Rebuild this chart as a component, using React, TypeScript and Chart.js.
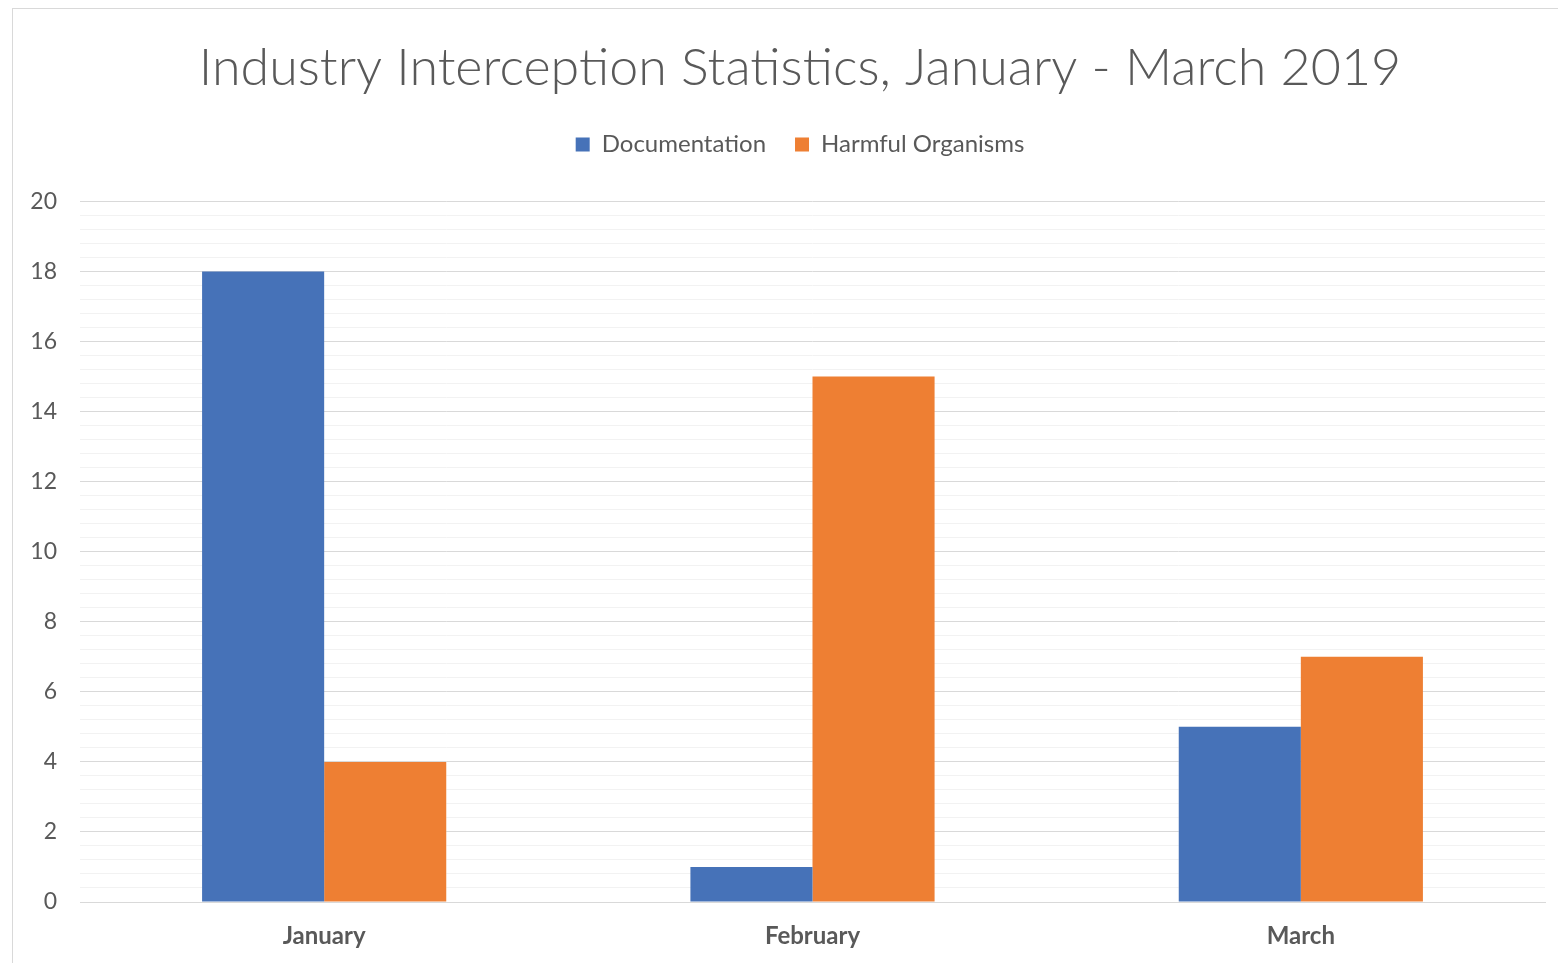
import React, { useEffect, useRef } from "react";
import { Chart, registerables } from "chart.js";

Chart.register(...registerables);

const categories = ["January", "February", "March"];
const documentation = [18, 1, 5];
const harmfulOrganisms = [4, 15, 7];
const seriesNames = ["Documentation", "Harmful Organisms"];
const titleText = "Industry Interception Statistics, January - March 2019";

const FONT = "Lato, 'Open Sans', sans-serif";

export default function App() {
  const ref = useRef<HTMLCanvasElement | null>(null);
  useEffect(() => {
    document.body.style.margin = "0";
    const legendMargin = {
      id: "legendMargin",
      beforeInit(chart: any) {
        const fit = chart.legend.fit;
        chart.legend.fit = function () {
          fit.bind(chart.legend)();
          this.height += 35;
        };
      },
    };
    const chart = new Chart(ref.current!, {
      type: "bar",
      data: {
        labels: categories,
        datasets: [
          { label: seriesNames[0], data: documentation, backgroundColor: "#4672B8" },
          { label: seriesNames[1], data: harmfulOrganisms, backgroundColor: "#EE7F33" },
        ],
      },
      options: {
        animation: false,
        responsive: false,
        maintainAspectRatio: false,
        layout: { padding: { left: 0, right: 0, top: 0, bottom: 0 } },
        datasets: { bar: { barPercentage: 1, categoryPercentage: 0.5 } },
        plugins: {
          title: {
            display: true,
            text: titleText,
            color: "#595959",
            font: { family: FONT, size: 52, weight: "300" },
            padding: { top: 28, bottom: 4 },
          },
          legend: {
            position: "top",
            labels: {
              color: "#595959",
              font: { family: FONT, size: 24 },
              boxWidth: 14,
              boxHeight: 14,
              padding: 29,
            },
          },
          tooltip: { enabled: false },
        },
        scales: {
          x: {
            grid: { display: false, drawTicks: false },
            border: { display: true, color: "#D9D9D9", width: 1 },
            ticks: {
              color: "#595959",
              font: { family: FONT, size: 24, weight: "bold" },
              padding: 20,
            },
            afterFit(scale: any) {
              scale.height = 67;
            },
          },
          y: {
            min: 0,
            max: 20,
            grid: {
              drawTicks: false,
              color: (ctx: any) => {
                const v = ctx.tick ? ctx.tick.value : 0;
                return Math.abs(v / 2 - Math.round(v / 2)) < 1e-6 ? "#D9D9D9" : "#F2F2F2";
              },
            },
            border: { display: false },
            ticks: {
              stepSize: 0.4,
              autoSkip: false,
              color: "#595959",
              font: { family: FONT, size: 23 },
              padding: 23,
              callback: (v: any) => {
                const n = Number(v);
                return Math.abs(n / 2 - Math.round(n / 2)) < 1e-6 ? String(Math.round(n)) : "";
              },
            },
            afterFit(scale: any) {
              scale.width = 67;
            },
          },
          yRight: {
            position: "right",
            min: 0,
            max: 1,
            grid: { display: false, drawTicks: false },
            border: { display: false },
            ticks: { display: false },
            afterFit(scale: any) {
              scale.width = 42;
            },
          },
        },
      },
      plugins: [legendMargin],
    });
    return () => chart.destroy();
  }, []);
  return (
    <div
      style={{
        position: "absolute",
        left: 12,
        top: 8,
        width: 1580,
        height: 970,
        border: "1px solid #D9D9D9",
        background: "#fff",
      }}
    >
      <canvas ref={ref} width={1574} height={960} style={{ display: "block" }} />
    </div>
  );
}
